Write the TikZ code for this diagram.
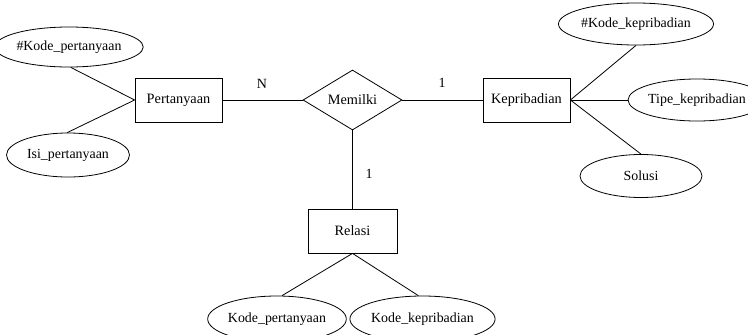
\documentclass[tikz,border=0pt]{standalone}
\usepackage{fontspec}
\setmainfont{Liberation Serif}
\usetikzlibrary{shapes.geometric}
\tikzset{
  ent/.style={draw, rectangle, inner sep=0pt, minimum width=87pt, minimum height=44pt, font=\fontsize{14.3}{16}\selectfont},
  rel/.style={draw, diamond, inner sep=0pt, minimum width=99pt, minimum height=60pt, font=\fontsize{14.3}{16}\selectfont},
  att/.style={draw, ellipse, inner sep=0pt, minimum width=122pt, minimum height=42pt, font=\fontsize{13.9}{16}\selectfont},
  card/.style={font=\fontsize{14}{16}\selectfont, inner sep=0pt},
  conn/.style={line width=0.8pt}
}
\begin{document}
\begin{tikzpicture}[x=1pt,y=-1pt, line width=0.8pt]
\useasboundingbox (0,0) rectangle (748,335);
\fill[white] (0,0) rectangle (748,335);
% entities
\node[ent] (p) at (178.5,100) {Pertanyaan};
\node[ent] (k) at (526.5,100) {Kepribadian};
\node[ent, minimum width=89pt] (r) at (352.5,231) {Relasi};
\node[rel] (d) at (352.5,100) {Memilki};
% attributes
\node[att, minimum width=124pt, minimum height=40pt] (kp) at (69,47) {\#Kode\_pertanyaan};
\node[att, minimum width=123pt, minimum height=44pt] (ip) at (68,155) {Isi\_pertanyaan};
\node[att] (kk) at (636,24) {\#Kode\_kepribadian};
\node[att] (tk) at (697,100) {Tipe\_kepribadian};
\node[att, minimum height=43pt] (so) at (641,176) {Solusi};
\node[att, minimum width=120pt, minimum height=46pt] (rkp) at (277,319) {Kode\_pertanyaan};
\node[att, minimum width=111pt, minimum height=46pt] (rkk) at (422.5,319) {Kode\_kepribadian};
% connectors
\draw[conn] (kp.-85) -- (p.west);
\draw[conn] (ip.92) -- (p.west);
\draw[conn] (p.east) -- (d.west);
\draw[conn] (d.east) -- (k.west);
\draw[conn] (d.south) -- (r.north);
\draw[conn] (k.east) -- (kk.south);
\draw[conn] (k.east) -- (tk.west);
\draw[conn] (k.east) -- (so.north);
\draw[conn] (r.south) -- (rkp.78);
\draw[conn] (r.south) -- (rkk.100);
% cardinalities
\node[card] (cn) at (262,84) {N};
\node[card] (c1) at (442,83) {1};
\node[card] (c2) at (369,174) {1};
\end{tikzpicture}
\end{document}
